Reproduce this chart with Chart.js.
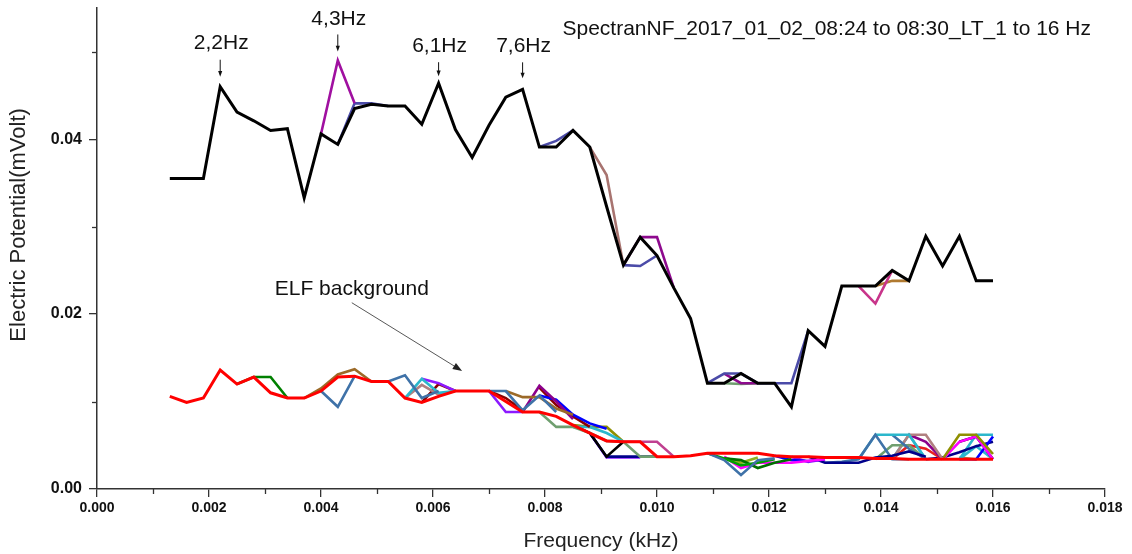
<!DOCTYPE html>
<html>
<head>
<meta charset="utf-8">
<script src="https://cdn.jsdelivr.net/npm/chart.js@4"></script>
<style>
  html, body { margin: 0; padding: 0; background: #fff; }
</style>
</head>
<body>
<canvas id="spectrum" width="1132" height="554"></canvas>
<script>
// frequency bins (kHz), 1.3 .. 16 Hz in 0.3 Hz steps
const freqs = [
  0.0013, 0.0016, 0.0019, 0.0022, 0.0025, 0.0028, 0.0031, 0.0034, 0.0037, 0.0040,
  0.0043, 0.0046, 0.0049, 0.0052, 0.0055, 0.0058, 0.0061, 0.0064, 0.0067, 0.0070,
  0.0073, 0.0076, 0.0079, 0.0082, 0.0085, 0.0088, 0.0091, 0.0094, 0.0097, 0.0100,
  0.0103, 0.0106, 0.0109, 0.0112, 0.0115, 0.0118, 0.0121, 0.0124, 0.0127, 0.0130,
  0.0133, 0.0136, 0.0139, 0.0142, 0.0145, 0.0148, 0.0151, 0.0154, 0.0157, 0.0160
];

// main spectrum (black)
const signal = [
  0.0355, 0.0355, 0.0355, 0.0460, 0.0431, 0.0421, 0.0410, 0.0412, 0.0333, 0.0406,
  0.0394, 0.0435, 0.0440, 0.0438, 0.0438, 0.0417, 0.0464, 0.0411, 0.0379, 0.0416,
  0.0448, 0.0457, 0.0391, 0.0391, 0.0410, 0.0391, 0.0323, 0.0256, 0.0288, 0.0267,
  0.0230, 0.0195, 0.0121, 0.0121, 0.0132, 0.0121, 0.0121, 0.0094, 0.0181, 0.0163,
  0.0232, 0.0232, 0.0232, 0.0250, 0.0238, 0.0289, 0.0255, 0.0289, 0.0238, 0.0238
];

// ELF background (red)
const background = [
  0.0106, 0.0099, 0.0104, 0.0136, 0.0120, 0.0128, 0.0110, 0.0104, 0.0104, 0.0112,
  0.0128, 0.0129, 0.0123, 0.0123, 0.0104, 0.0099, 0.0106, 0.0112, 0.0112, 0.0112,
  0.0100, 0.0088, 0.0088, 0.0083, 0.0073, 0.0064, 0.0055, 0.0054, 0.0054, 0.0037,
  0.0037, 0.0038, 0.0041, 0.0041, 0.0041, 0.0041, 0.0038, 0.0037, 0.0037, 0.0036,
  0.0036, 0.0036, 0.0035, 0.0035, 0.0034, 0.0034, 0.0034, 0.0034, 0.0034, 0.0034
];

// other recordings, only where they leave the main curves (start = bin index)
const signalRuns = [
  { start: 9,  values: [0.0406, 0.0490, 0.0441] },
  { start: 10, values: [0.0394, 0.0441, 0.0441, 0.0438] },
  { start: 22, values: [0.0391, 0.0398, 0.0410] },
  { start: 25, values: [0.0391, 0.0359, 0.0256] },
  { start: 27, values: [0.0256, 0.0288, 0.0288, 0.0230] },
  { start: 27, values: [0.0256, 0.0255, 0.0267] },
  { start: 32, values: [0.0121, 0.0132, 0.0132, 0.0121, 0.0121, 0.0121, 0.0181] },
  { start: 33, values: [0.0132, 0.0121, 0.0121] },
  { start: 33, values: [0.0121, 0.0120, 0.0121] },
  { start: 41, values: [0.0232, 0.0212, 0.0250] },
  { start: 42, values: [0.0232, 0.0238, 0.0238] }
];
const signalRunColors = [
  "#a010a0", "#4b4ba8", "#4b4ba8", "#a87470", "#8e0a8e", "#4b4ba8",
  "#4b4ba8", "#8e0a8e", "#6f9f6f", "#c8348a", "#b07a30"
];

const backgroundRuns = [
  { start: 4,  values: [0.0120, 0.0128, 0.0128, 0.0104] },
  { start: 8,  values: [0.0104, 0.0115, 0.0131, 0.0137, 0.0123] },
  { start: 9,  values: [0.0112, 0.0094, 0.0129] },
  { start: 13, values: [0.0123, 0.0130, 0.0104, 0.0112] },
  { start: 14, values: [0.0104, 0.0126, 0.0110, 0.0112] },
  { start: 14, values: [0.0104, 0.0119, 0.0108, 0.0112] },
  { start: 15, values: [0.0126, 0.0121, 0.0112] },
  { start: 15, values: [0.0099, 0.0120, 0.0112] },
  { start: 19, values: [0.0112, 0.0112, 0.0090, 0.0107, 0.0088] },
  { start: 19, values: [0.0112, 0.0088, 0.0088] },
  { start: 20, values: [0.0112, 0.0105, 0.0105, 0.0092, 0.0085] },
  { start: 19, values: [0.0112, 0.0104, 0.0090] },
  { start: 21, values: [0.0088, 0.0118, 0.0100, 0.0080] },
  { start: 22, values: [0.0107, 0.0102, 0.0085, 0.0075, 0.0069] },
  { start: 22, values: [0.0116, 0.0096, 0.0083, 0.0071] },
  { start: 22, values: [0.0088, 0.0071, 0.0071, 0.0064, 0.0055, 0.0054, 0.0037, 0.0037] },
  { start: 24, values: [0.0071, 0.0071, 0.0064, 0.0054] },
  { start: 24, values: [0.0073, 0.0071, 0.0071, 0.0054] },
  { start: 24, values: [0.0073, 0.0064, 0.0037, 0.0054] },
  { start: 25, values: [0.0064, 0.0037, 0.0037, 0.0037, 0.0037] },
  { start: 25, values: [0.0064, 0.0036, 0.0036, 0.0036] },
  { start: 27, values: [0.0054, 0.0054, 0.0054, 0.0037] },
  { start: 32, values: [0.0041, 0.0033, 0.0016, 0.0033, 0.0035] },
  { start: 32, values: [0.0041, 0.0035, 0.0027, 0.0030, 0.0034] },
  { start: 33, values: [0.0035, 0.0033, 0.0024, 0.0030, 0.0034] },
  { start: 33, values: [0.0037, 0.0024, 0.0030, 0.0030, 0.0030, 0.0032, 0.0034] },
  { start: 33, values: [0.0036, 0.0030, 0.0036] },
  { start: 36, values: [0.0038, 0.0033, 0.0032, 0.0034] },
  { start: 37, values: [0.0037, 0.0031, 0.0034] },
  { start: 38, values: [0.0037, 0.0030, 0.0030, 0.0030, 0.0036, 0.0038, 0.0043, 0.0037] },
  { start: 39, values: [0.0030, 0.0031, 0.0034, 0.0062, 0.0034, 0.0034] },
  { start: 41, values: [0.0034, 0.0062, 0.0062, 0.0062, 0.0034] },
  { start: 43, values: [0.0062, 0.0046, 0.0034] },
  { start: 42, values: [0.0034, 0.0050, 0.0050, 0.0034] },
  { start: 43, values: [0.0034, 0.0062, 0.0062, 0.0034] },
  { start: 44, values: [0.0062, 0.0054, 0.0034] },
  { start: 43, values: [0.0034, 0.0050, 0.0046, 0.0034] },
  { start: 43, values: [0.0034, 0.0062, 0.0034] },
  { start: 46, values: [0.0034, 0.0062, 0.0062, 0.0040] },
  { start: 46, values: [0.0034, 0.0054, 0.0060, 0.0034] },
  { start: 47, values: [0.0054, 0.0060, 0.0034] },
  { start: 47, values: [0.0034, 0.0034, 0.0060] },
  { start: 45, values: [0.0034, 0.0036, 0.0042, 0.0049, 0.0054] },
  { start: 47, values: [0.0034, 0.0062, 0.0062] },
  { start: 47, values: [0.0034, 0.0049, 0.0034] },
  { start: 47, values: [0.0036, 0.0034] }
];
const backgroundRunColors = [
  "#008000", "#9c6a28", "#3f72a8", "#3f72a8", "#2bb7cc", "#b08080", "#8c1aff", "#8b0000",
  "#3f72a8", "#8c1aff", "#9c6a28", "#8b0000", "#8b008b", "#0000ff", "#8b0000", "#6f9f6f",
  "#2bb7cc", "#8f8f00", "#000000", "#00008b", "#8c1aff", "#c04090", "#3f72a8", "#00a000",
  "#007000", "#ff00ff", "#90b020", "#0000ff", "#8c1aff", "#00008b", "#3f72a8", "#2bb7cc",
  "#3f72a8", "#6f9f6f", "#b08080", "#8b008b", "#e82020", "#2bb7cc", "#8f8f00", "#ff00ff",
  "#000000", "#0000ff", "#00008b", "#2bb7cc", "#2bb7cc", "#b07a30"
];

const xTicks = [0, 0.002, 0.004, 0.006, 0.008, 0.010, 0.012, 0.014, 0.016, 0.018];
const yTicks = [0, 0.02, 0.04];
const xMinorTicks = [0.001, 0.003, 0.005, 0.007, 0.009, 0.011, 0.013, 0.015, 0.017];
const yMinorTicks = [0.01, 0.03, 0.05];

// peak annotations: label lift and arrow span are pixel offsets above the peak
const peakNotes = [
  { bin: 3,  text: "2,2Hz", value: 0.0460, lift: 44, arrowFrom: 27, arrowTo: 10 },
  { bin: 10, text: "4,3Hz", value: 0.0490, lift: 41, arrowFrom: 26, arrowTo: 9 },
  { bin: 16, text: "6,1Hz", value: 0.0464, lift: 37, arrowFrom: 21, arrowTo: 7 },
  { bin: 21, text: "7,6Hz", value: 0.0457, lift: 43, arrowFrom: 27, arrowTo: 11 }
];
const titleText = "SpectranNF_2017_01_02_08:24 to 08:30_LT_1 to 16 Hz";
const yTitle = "Electric Potential(mVolt)";

const FONT = "'Liberation Sans', Arial, sans-serif";

function toPoints(values, start) {
  return values.map((v, i) => ({ x: freqs[start + i], y: v }));
}

const datasets = [
  { data: toPoints(signal, 0), borderColor: "#000", borderWidth: 3 },
  { data: toPoints(background, 0), borderColor: "#ff0000", borderWidth: 3 }
];
signalRuns.forEach((r, i) => {
  datasets.push({ data: toPoints(r.values, r.start), borderColor: signalRunColors[i], borderWidth: 2.6 });
});
backgroundRuns.forEach((r, i) => {
  datasets.push({ data: toPoints(r.values, r.start), borderColor: backgroundRunColors[i], borderWidth: 2.6 });
});
datasets.forEach(d => {
  d.pointRadius = 0;
  d.tension = 0;
  d.fill = false;
  d.borderJoinStyle = "miter";
});

function arrow(ctx, x1, y1, x2, y2, head) {
  const a = Math.atan2(y2 - y1, x2 - x1);
  ctx.beginPath();
  ctx.moveTo(x1, y1);
  ctx.lineTo(x2 - Math.cos(a) * head * 0.8, y2 - Math.sin(a) * head * 0.8);
  ctx.stroke();
  ctx.beginPath();
  ctx.moveTo(x2, y2);
  ctx.lineTo(x2 - head * Math.cos(a - 0.35), y2 - head * Math.sin(a - 0.35));
  ctx.lineTo(x2 - head * Math.cos(a + 0.35), y2 - head * Math.sin(a + 0.35));
  ctx.closePath();
  ctx.fill();
}

const extras = {
  id: "extras",
  afterDraw(chart) {
    const { ctx, chartArea, scales: { x, y } } = chart;
    ctx.save();
    // minor ticks
    ctx.strokeStyle = "#333";
    ctx.lineWidth = 1.3;
    xMinorTicks.forEach(v => {
      const px = Math.round(x.getPixelForValue(v)) + 0.5;
      ctx.beginPath();
      ctx.moveTo(px, chartArea.bottom);
      ctx.lineTo(px, chartArea.bottom + 5);
      ctx.stroke();
    });
    yMinorTicks.forEach(v => {
      const py = Math.round(y.getPixelForValue(v)) + 0.5;
      ctx.beginPath();
      ctx.moveTo(chartArea.left - 5, py);
      ctx.lineTo(chartArea.left, py);
      ctx.stroke();
    });

    // peak labels
    ctx.fillStyle = "#111";
    ctx.strokeStyle = "#111";
    ctx.font = "21px " + FONT;
    ctx.textAlign = "center";
    ctx.textBaseline = "middle";
    ctx.lineWidth = 1;
    peakNotes.forEach(n => {
      const px = x.getPixelForValue(freqs[n.bin]);
      const py = y.getPixelForValue(n.value);
      ctx.fillText(n.text, px + 1, py - n.lift);
      arrow(ctx, px, py - n.arrowFrom, px, py - n.arrowTo, 6);
    });

    // title
    ctx.textAlign = "right";
    ctx.fillText(titleText, chartArea.right - 14, chartArea.top + 21);

    // ELF background note
    ctx.textAlign = "center";
    ctx.fillText("ELF background", x.getPixelForValue(0.00455), y.getPixelForValue(0.0229));
    ctx.strokeStyle = "#444";
    ctx.fillStyle = "#222";
    ctx.lineWidth = 0.9;
    arrow(ctx, x.getPixelForValue(0.00455), y.getPixelForValue(0.0213),
      x.getPixelForValue(0.00652), y.getPixelForValue(0.0135), 10);

    // y axis title, sits a little above the middle of the axis
    ctx.fillStyle = "#222";
    ctx.font = "22px " + FONT;
    ctx.translate(19, y.getPixelForValue(0.0302));
    ctx.rotate(-Math.PI / 2);
    ctx.fillText(yTitle, 0, 0);
    ctx.restore();
  }
};

new Chart(document.getElementById("spectrum").getContext("2d"), {
  type: "line",
  data: { datasets: datasets },
  options: {
    responsive: false,
    animation: false,
    layout: { padding: { top: 8, right: 27, left: 0, bottom: 0 } },
    plugins: { legend: { display: false }, tooltip: { enabled: false } },
    scales: {
      x: {
        type: "linear",
        min: 0,
        max: 0.018,
        afterBuildTicks: s => { s.ticks = xTicks.map(v => ({ value: v })); },
        afterFit: s => { s.height = 65; },
        ticks: {
          callback: v => v.toFixed(3),
          font: { family: FONT, size: 14, weight: "bold" },
          color: "#111",
          padding: 3,
          maxRotation: 0,
          autoSkip: false
        },
        grid: { drawOnChartArea: false, tickLength: 8, color: "#333", lineWidth: 1.3 },
        border: { display: true, color: "#333", width: 1.5 },
        title: {
          display: true,
          text: "Frequency (kHz)",
          font: { family: FONT, size: 21 },
          color: "#222",
          padding: { top: 0, bottom: 0 }
        }
      },
      y: {
        type: "linear",
        min: 0,
        max: 0.055,
        afterBuildTicks: s => { s.ticks = yTicks.map(v => ({ value: v })); },
        afterFit: s => { s.width = 97; s.paddingTop = 0; s.paddingBottom = 0; },
        ticks: {
          callback: v => v.toFixed(2),
          font: { family: FONT, size: 16, weight: "bold" },
          color: "#111",
          padding: 7
        },
        grid: { drawOnChartArea: false, tickLength: 8, color: "#333", lineWidth: 1.3 },
        border: { display: true, color: "#333", width: 1.5 },
        title: { display: false }
      }
    }
  },
  plugins: [extras]
});
</script>
</body>
</html>
